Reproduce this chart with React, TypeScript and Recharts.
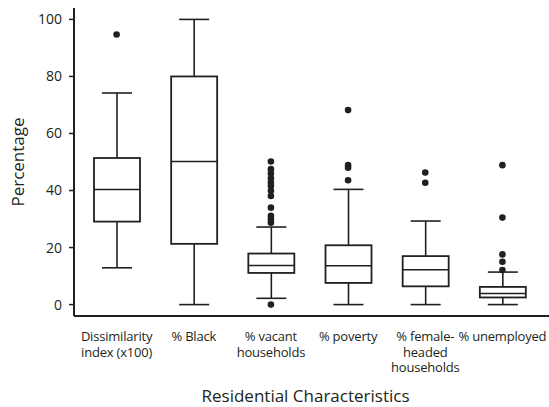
import * as React from "react";
import {
  Bar,
  ComposedChart,
  Label,
  Scatter,
  XAxis,
  YAxis,
} from "recharts";

const INK = "#231f20";
const FONT = "'Open Sans', sans-serif";

const categories = [
  "Dissimilarity index (x100)",
  "% Black",
  "% vacant households",
  "% poverty",
  "% female-headed households",
  "% unemployed",
];

// how each category label is broken into lines under the axis
const tickLines: Record<string, string[]> = {
  "Dissimilarity index (x100)": ["Dissimilarity", "index (x100)"],
  "% Black": ["% Black"],
  "% vacant households": ["% vacant", "households"],
  "% poverty": ["% poverty"],
  "% female-headed households": ["% female-", "headed", "households"],
  "% unemployed": ["% unemployed"],
};

const whiskerLow = [12.9, 0, 2.2, 0, 0, 0];
const q1 = [29.1, 21.3, 11.1, 7.6, 6.4, 2.5];
const medians = [40.4, 50.2, 13.7, 13.6, 12.2, 3.9];
const q3 = [51.4, 80, 17.9, 20.8, 17, 6.2];
const whiskerHigh = [74.2, 100, 27.2, 40.4, 29.3, 11.4];

const outliers = [
  [94.7],
  [],
  [0, 28.7, 29.9, 31.1, 34, 38.1, 39.9, 41.6, 42.8, 44.3, 46, 47.5, 50.2],
  [43.6, 48, 48.9, 68.2],
  [42.7, 46.3],
  [12.1, 15, 17.6, 30.5, 48.9],
];

const yTicks = [0, 20, 40, 60, 80, 100];

const boxData = categories.map((name, i) => ({
  name,
  low: whiskerLow[i],
  q1: q1[i],
  median: medians[i],
  q3: q3[i],
  high: whiskerHigh[i],
}));

const outlierData = categories.flatMap((name, i) =>
  outliers[i].map((value) => ({ name, value }))
);

// box + whiskers, positioned from the bar's own [q1, q3] geometry
function BoxShape(props: any) {
  const { x, y, width, height, payload } = props;
  const perUnit = height / (payload.q3 - payload.q1);
  const toY = (v: number) => y + (payload.q3 - v) * perUnit;
  const cx = x + width / 2;
  const cap = 15;
  return (
    <g stroke={INK} fill="none">
      <line x1={cx} x2={cx} y1={toY(payload.high)} y2={y} strokeWidth={1.6} />
      <line x1={cx} x2={cx} y1={y + height} y2={toY(payload.low)} strokeWidth={1.6} />
      <line x1={cx - cap} x2={cx + cap} y1={toY(payload.high)} y2={toY(payload.high)} strokeWidth={1.6} />
      <line x1={cx - cap} x2={cx + cap} y1={toY(payload.low)} y2={toY(payload.low)} strokeWidth={1.6} />
      <rect x={x} y={y} width={width} height={height} fill="#fff" strokeWidth={1.8} />
      <line x1={x} x2={x + width} y1={toY(payload.median)} y2={toY(payload.median)} strokeWidth={1.5} />
    </g>
  );
}

function CategoryTick(props: any) {
  const { x, y, payload } = props;
  const lines = tickLines[payload.value] || [payload.value];
  return (
    <text x={x} y={y} textAnchor="middle" fill={INK} fontSize={13} fontFamily={FONT} letterSpacing={-0.2}>
      {lines.map((l, i) => (
        <tspan key={i} x={x} dy={i === 0 ? 17 : 15.7}>
          {l}
        </tspan>
      ))}
    </text>
  );
}

export default function App() {
  return (
    <div style={{ position: "absolute", left: 0, top: 0, background: "#fff" }}>
      <ComposedChart
        width={549}
        height={407}
        data={boxData}
        margin={{ top: 8, right: 0, bottom: 0, left: 0 }}
      >
        <XAxis
          dataKey="name"
          type="category"
          allowDuplicatedCategory={false}
          height={91}
          padding={{ left: 4, right: 8 }}
          tickLine={false}
          axisLine={{ stroke: INK, strokeWidth: 2 }}
          tick={<CategoryTick />}
          interval={0}
        >
          <Label
            value="Residential Characteristics"
            position="insideBottom"
            offset={5}
            dx={-6}
            fill={INK}
            fontSize={17}
            fontFamily={FONT}
          />
        </XAxis>
        <YAxis
          type="number"
          domain={[-4, 104]}
          ticks={yTicks}
          width={74}
          tickSize={5}
          tickMargin={7}
          axisLine={{ stroke: INK, strokeWidth: 2 }}
          tickLine={{ stroke: INK, strokeWidth: 1.5 }}
          tick={{ fill: INK, fontSize: 14, fontFamily: FONT }}
        >
          <Label
            value="Percentage"
            angle={-90}
            position="center"
            dx={-19}
            fill={INK}
            fontSize={17}
            fontFamily={FONT}
          />
        </YAxis>
        <Bar
          dataKey={(d: any) => [d.q1, d.q3]}
          barSize={46}
          shape={<BoxShape />}
          isAnimationActive={false}
        />
        <Scatter
          data={outlierData}
          dataKey="value"
          fill={INK}
          shape={(p: any) => <circle cx={p.cx} cy={p.cy} r={3.3} fill={INK} />}
          isAnimationActive={false}
        />
      </ComposedChart>
    </div>
  );
}
